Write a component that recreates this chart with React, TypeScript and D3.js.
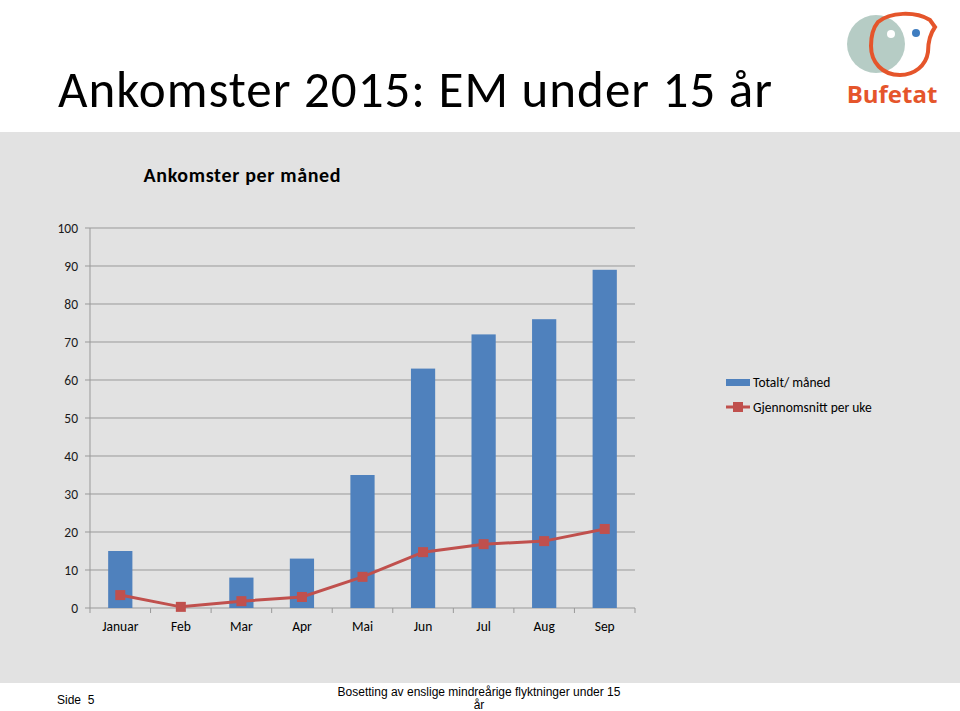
import * as d3 from 'd3';

const months = ['Januar', 'Feb', 'Mar', 'Apr', 'Mai', 'Jun', 'Jul', 'Aug', 'Sep'];
const totalPerMonth = [15, 0, 8, 13, 35, 63, 72, 76, 89];
const avgPerWeek = [3.4, 0.3, 1.8, 2.9, 8.2, 14.7, 16.8, 17.6, 20.8];
const yTicks = [0, 10, 20, 30, 40, 50, 60, 70, 80, 90, 100];

const W = 960;
const H = 711;
const plot = { left: 90, right: 635, top: 228, bottom: 608 };
const calibri = 'Carlito, Lato, "Open Sans", sans-serif';
const arial = '"Liberation Sans", Arial, sans-serif';

export default function App() {
  const x = d3.scaleBand().domain(months).range([plot.left, plot.right]).paddingInner(0.6).paddingOuter(0.3);
  const xc = d3.scaleBand().domain(months).range([plot.left, plot.right]);
  const y = d3.scaleLinear().domain([0, 100]).range([plot.bottom, plot.top]);

  const line = d3
    .line<number>()
    .x((_, i) => (xc(months[i]) as number) + xc.bandwidth() / 2)
    .y((d) => y(d));

  return (
    <svg width={W} height={H} style={{ position: 'absolute', left: 0, top: 0 }}>
      <rect x={0} y={0} width={W} height={H} fill="#fff" />
      <rect x={0} y={132} width={W} height={551} fill="#e2e2e2" />

      <text x={58} y={107} fontFamily={calibri} fontSize={51} fill="#000" textLength={714} lengthAdjust="spacing">
        Ankomster 2015: EM under 15 år
      </text>

      {/* logo */}
      <g>
        <circle cx={876} cy={44} r={29} fill="#a9c3bb" opacity={0.85} />
        <path
          d="M878,22 C890,12 915,11 930,20 L935,27 C930,34 928,42 928,52 C926,66 914,75 900,75 C882,75 871,62 871,46 C871,36 873,28 878,22 Z"
          fill="none"
          stroke="#e5552b"
          strokeWidth={4}
        />
        <circle cx={891} cy={34} r={4} fill="#fff" />
        <circle cx={916} cy={33} r={4} fill="#3f7dc0" />
        <text x={892} y={103} textAnchor="middle" fontFamily='"Open Sans", sans-serif' fontWeight="bold" fontSize={24} fill="#e5552b">
          Bufetat
        </text>
      </g>

      <text x={242} y={182} textAnchor="middle" fontFamily={calibri} fontWeight="bold" fontSize={20} fill="#000" textLength={197} lengthAdjust="spacing">
        Ankomster per måned
      </text>

      {yTicks.map((t) => (
        <g key={t}>
          <line x1={plot.left - 5} x2={plot.right} y1={y(t)} y2={y(t)} stroke="#999" strokeWidth={1} />
          <text x={78} y={y(t) + 5} textAnchor="end" fontFamily={calibri} fontSize={13.5} fill="#1a1a1a">
            {t}
          </text>
        </g>
      ))}
      <line x1={plot.left} x2={plot.left} y1={plot.top} y2={plot.bottom + 5} stroke="#999" />
      {months.map((m) => (
        <line
          key={'t' + m}
          x1={(xc(m) as number) + xc.bandwidth()}
          x2={(xc(m) as number) + xc.bandwidth()}
          y1={plot.bottom}
          y2={plot.bottom + 5}
          stroke="#999"
        />
      ))}

      {months.map((m, i) => (
        <rect
          key={m}
          x={x(m) as number}
          y={y(totalPerMonth[i])}
          width={x.bandwidth()}
          height={y(0) - y(totalPerMonth[i])}
          fill="#4f81bd"
        />
      ))}

      <path d={line(avgPerWeek) as string} fill="none" stroke="#c0504d" strokeWidth={3} />
      {avgPerWeek.map((v, i) => (
        <rect
          key={'m' + i}
          x={(xc(months[i]) as number) + xc.bandwidth() / 2 - 5}
          y={y(v) - 5}
          width={10}
          height={10}
          fill="#c0504d"
        />
      ))}

      {months.map((m) => (
        <text
          key={'l' + m}
          x={(xc(m) as number) + xc.bandwidth() / 2}
          y={631}
          textAnchor="middle"
          fontFamily={calibri}
          fontSize={13.5}
          fill="#000"
        >
          {m}
        </text>
      ))}

      {/* legend */}
      <rect x={726} y={379} width={24} height={7} fill="#4f81bd" />
      <text x={753} y={387} fontFamily={calibri} fontSize={13.5} fill="#000">
        Totalt/ måned
      </text>
      <line x1={726} x2={750} y1={407} y2={407} stroke="#c0504d" strokeWidth={3} />
      <rect x={733} y={402} width={10} height={10} fill="#c0504d" />
      <text x={753} y={412} fontFamily={calibri} fontSize={13.5} fill="#000">
        Gjennomsnitt per uke
      </text>

      {/* footer */}
      <text x={57} y={704} fontFamily={arial} fontSize={12} fill="#000" style={{ whiteSpace: 'pre' }}>
        {'Side  5'}
      </text>
      <text x={479} y={696} textAnchor="middle" fontFamily={arial} fontSize={12} fill="#000">
        Bosetting av enslige mindreårige flyktninger under 15
      </text>
      <text x={479} y={709} textAnchor="middle" fontFamily={arial} fontSize={12} fill="#000">
        år
      </text>
    </svg>
  );
}
